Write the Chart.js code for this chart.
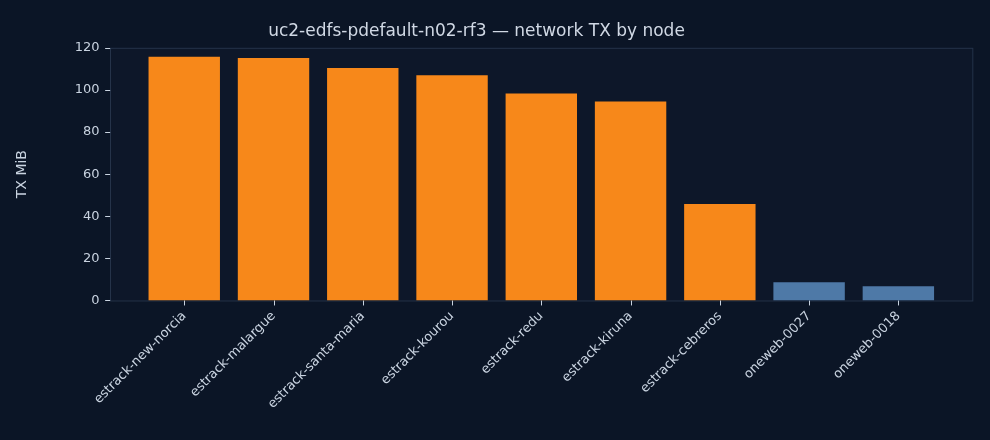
<!DOCTYPE html>
<html>
<head>
<meta charset="utf-8">
<script src="https://cdn.jsdelivr.net/npm/chart.js@4/dist/chart.umd.min.js"></script>
<style>
  html, body { margin: 0; padding: 0; background: #0b1526; }
  #wrap { width: 990px; height: 440px; }
</style>
</head>
<body>
<div id="wrap"><canvas id="c" width="990" height="440"></canvas></div>
<script>
// node names and TX volume (MiB)
const nodes = ['estrack-new-norcia', 'estrack-malargue', 'estrack-santa-maria', 'estrack-kourou',
    'estrack-redu', 'estrack-kiruna', 'estrack-cebreros', 'oneweb-0027', 'oneweb-0018'];
const txMiB = [115.7, 115.2, 110.4, 107, 98.3, 94.5, 45.8, 8.7, 6.7];
const yTicks = [0, 20, 40, 60, 80, 100, 120];

const barColors = nodes.map(n => n.startsWith('estrack') ? '#f7881a' : '#4e79a7');

// matplotlib-style margin: frame reaches past the outer categories
const MARGIN = 0.33;

const frame = {
    id: 'frame',
    beforeDraw(chart) {
        const { ctx, chartArea: a } = chart;
        const step = (a.right - a.left) / nodes.length;
        const l = a.left - MARGIN * step, r = a.right + MARGIN * step;
        ctx.save();
        ctx.fillStyle = '#0d1729';
        ctx.fillRect(l, a.top, r - l, a.bottom - a.top);
        ctx.strokeStyle = '#253349';
        ctx.lineWidth = 1;
        ctx.strokeRect(Math.round(l) + 0.5, a.top + 0.5, r - l, a.bottom - a.top);
        // tick marks
        ctx.strokeStyle = '#c9d3e0';
        const y = chart.scales.y;
        yTicks.forEach(v => {
            const py = Math.round(y.getPixelForValue(v)) + 0.5;
            ctx.beginPath(); ctx.moveTo(l - 5, py); ctx.lineTo(l, py); ctx.stroke();
        });
        const x = chart.scales.x;
        nodes.forEach((n, i) => {
            const px = Math.round(x.getPixelForValue(i)) + 0.5;
            ctx.beginPath(); ctx.moveTo(px, a.bottom); ctx.lineTo(px, a.bottom + 5); ctx.stroke();
        });
        ctx.restore();
    }
};

Chart.defaults.font.family = 'DejaVu Sans';
Chart.defaults.color = '#c9d3e0';

new Chart(document.getElementById('c').getContext('2d'), {
    type: 'bar',
    data: {
        labels: nodes,
        datasets: [{ data: txMiB, backgroundColor: barColors, categoryPercentage: 0.8, barPercentage: 1.0 }]
    },
    options: {
        responsive: false,
        animation: false,
        layout: { padding: { left: 10, right: 47, top: 0, bottom: 20 } },
        plugins: {
            legend: { display: false },
            tooltip: { enabled: false },
            title: {
                display: true,
                text: 'uc2-edfs-pdefault-n02-rf3 \u2014 network TX by node',
                font: { size: 17, weight: 'normal' },
                color: '#d0d8e4',
                padding: { top: 18, bottom: 6 }
            }
        },
        scales: {
            x: {
                grid: { display: false, drawTicks: false },
                border: { display: false },
                ticks: { font: { size: 13 }, maxRotation: 45, minRotation: 45, padding: 8, color: '#c9d3e0' }
            },
            y: {
                min: 0, max: 120,
                afterBuildTicks: s => { s.ticks = yTicks.map(v => ({ value: v })); },
                grid: { display: false, drawTicks: false },
                border: { display: false },
                ticks: { font: { size: 13 }, padding: 40, color: '#c9d3e0' },
                title: { display: true, text: 'TX MiB', font: { size: 14 }, color: '#c9d3e0' }
            }
        }
    },
    plugins: [frame]
});
</script>
</body>
</html>
